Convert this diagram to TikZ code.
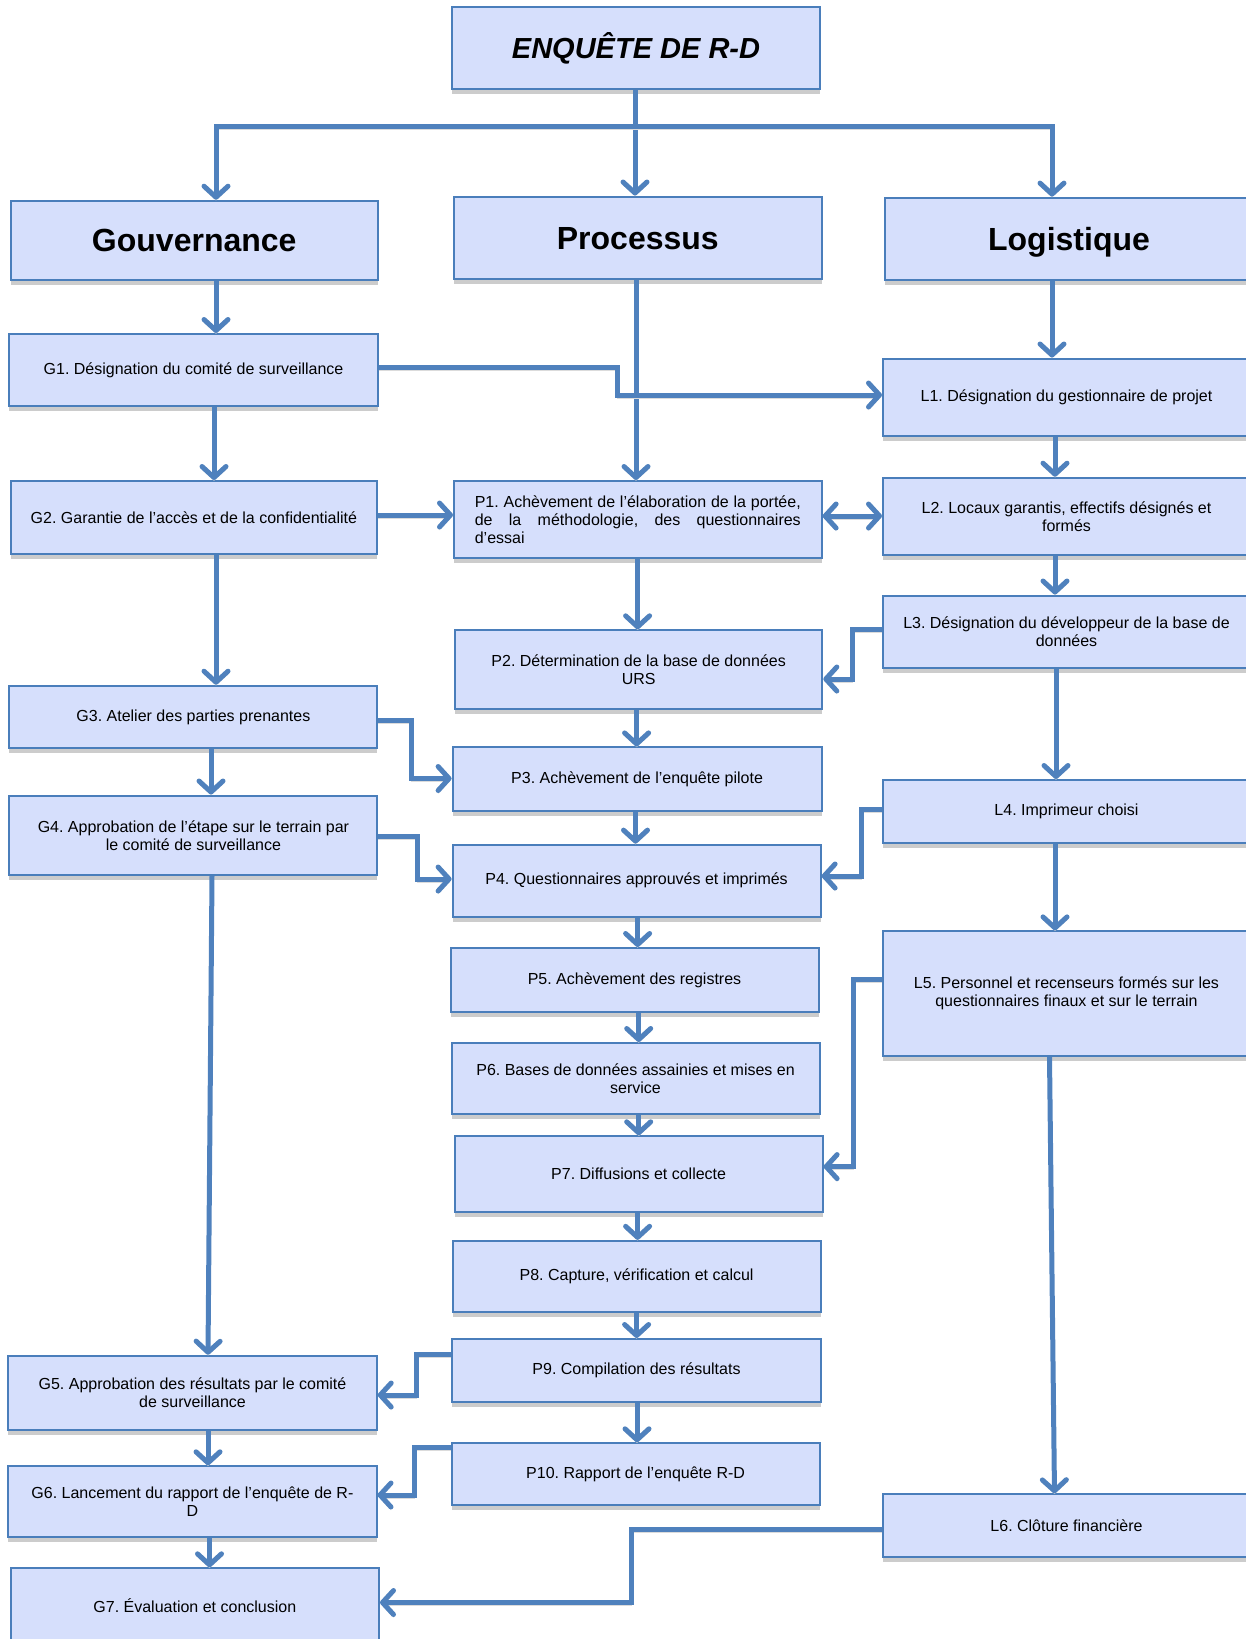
\documentclass[tikz,border=0pt]{standalone}
\usepackage{fontspec}
\setmainfont{Liberation Sans}
\usetikzlibrary{arrows.meta,shadows}
\definecolor{boxfill}{RGB}{214,223,252}
\definecolor{boxline}{RGB}{74,126,187}
\definecolor{conn}{RGB}{79,129,189}
\tikzset{
 box/.style={draw=boxline, line width=2pt, fill=boxfill, inner sep=0pt, align=center,
   font=\fontsize{16}{18}\selectfont\frenchspacing,
   drop shadow={shadow xshift=0pt,shadow yshift=-5pt,fill=black!20,opacity=1}},
 headbox/.style={box, font=\fontsize{32}{34}\selectfont\bfseries, text height=23pt, text depth=0pt},
 titlebox/.style={box, font=\fontsize{29}{30}\selectfont\bfseries\itshape, text height=21pt, text depth=0pt},
 tipA/.tip={Straight Barb[length=11pt,width=24pt,round]},
 arr/.style={draw=conn, line width=5pt, -tipA,
   preaction={draw=black!14, transform canvas={yshift=-3pt}}},
 dblarr/.style={arr, tipA-tipA},
}
\newcommand\bx[7][box]{\node[#1, minimum width={#5-#3}, minimum height={#6-#4}] (#2) at ({(#3+#5)/2},{(#4+#6)/2}) {#7};}
\begin{document}
\begin{tikzpicture}[x=1pt,y=-1pt]
\useasboundingbox (0,0) rectangle (1246,1639);
% boxes
\bx[titlebox]{ENQ}{452}{7}{820}{89}{ENQUÊTE DE R-D}
\bx[headbox]{Gov}{10.5}{200.7}{378}{280}{Gouvernance}
\bx[headbox]{Proc}{454}{196.5}{821.6}{279}{Processus}
\bx[headbox]{Log}{885}{197.6}{1253}{280}{Logistique}
\bx{G1}{9.4}{334}{377.7}{406.4}{G1. Désignation du comité de surveillance}
\bx{L1}{883}{358.5}{1250}{436}{L1. Désignation du gestionnaire de projet}
\bx{G2}{10.5}{481}{377.4}{554}{G2. Garantie de l’accès et de la confidentialité}
\bx{P1}{454}{481}{821.6}{557.5}{\makebox[326pt][s]{P1. Achèvement de l’élaboration de la portée,}\\\makebox[326pt][s]{de la méthodologie, des questionnaires}\\\makebox[326pt][l]{d’essai}}
\bx{L2}{883}{477.7}{1250}{555}{L2. Locaux garantis, effectifs désignés et\\formés}
\bx{L3}{883}{595.5}{1250}{667.5}{L3. Désignation du développeur de la base de\\données}
\bx{P2}{455}{630.3}{822.3}{709}{P2. Détermination de la base de données\\URS}
\bx{G3}{9.4}{685.7}{377.4}{748.4}{G3. Atelier des parties prenantes}
\bx{P3}{452.6}{747.4}{821.6}{811}{P3. Achèvement de l’enquête pilote}
\bx{L4}{883}{780}{1250}{843}{L4. Imprimeur choisi}
\bx{G4}{9.4}{795.5}{377.4}{875}{G4. Approbation de l’étape sur le terrain par\\le comité de surveillance}
\bx{P4}{452.6}{844.6}{820.6}{916.7}{P4. Questionnaires approuvés et imprimés}
\bx{L5}{883}{931.4}{1250}{1055.8}{L5. Personnel et recenseurs formés sur les\\questionnaires finaux et sur le terrain}
\bx{P5}{450.5}{948}{818.5}{1012}{P5. Achèvement des registres}
\bx{P6}{451.6}{1043}{819.5}{1114.3}{P6. Bases de données assainies et mises en\\service}
\bx{P7}{454.7}{1136.3}{822.6}{1211.5}{P7. Diffusions et collecte}
\bx{P8}{452.6}{1240.8}{820.6}{1312}{P8. Capture, vérification et calcul}
\bx{P9}{452.3}{1339}{820.7}{1401.7}{P9. Compilation des résultats}
\bx{G5}{8.3}{1355.7}{376.7}{1430}{G5. Approbation des résultats par le comité\\de surveillance}
\bx{P10}{451.7}{1443.3}{819.5}{1505}{P10. Rapport de l’enquête R-D}
\bx{G6}{8.4}{1466.3}{376.5}{1537.3}{G6. Lancement du rapport de l’enquête de R-\\D}
\bx{L6}{883}{1494.3}{1250}{1557.3}{L6. Clôture financière}
\bx{G7}{10.7}{1568.3}{379}{1642}{G7. Évaluation et conclusion}
% top tree
\coordinate (hub) at (635,126.5);
\draw[arr] (ENQ.south -| 635,0) -- (635,0 |- Proc.north);
\draw[arr] (hub) -| (216,0 |- Gov.north);
\draw[arr] (hub) -| (1052,0 |- Log.north);
% verticals
\draw[arr] (216,0 |- Gov.south) -- (216,0 |- G1.north);
\draw[arr] (1052,0 |- Log.south) -- (1052,0 |- L1.north);
\draw[arr] (636,0 |- Proc.south) -- (636,0 |- P1.north);
\draw[arr] (214,0 |- G1.south) -- (214,0 |- G2.north);
\draw[arr] (1055,0 |- L1.south) -- (1055,0 |- L2.north);
\draw[arr] (1055,0 |- L2.south) -- (1055,0 |- L3.north);
\draw[arr] (637.6,0 |- P1.south) -- (637.6,0 |- P2.north);
\draw[arr] (216,0 |- G2.south) -- (216,0 |- G3.north);
\draw[arr] (636.6,0 |- P2.south) -- (636.6,0 |- P3.north);
\draw[arr] (1056,0 |- L3.south) -- (1056,0 |- L4.north);
\draw[arr] (211,0 |- G3.south) -- (211,0 |- G4.north);
\draw[arr] (635.5,0 |- P3.south) -- (635.5,0 |- P4.north);
\draw[arr] (1055,0 |- L4.south) -- (1055,0 |- L5.north);
\draw[arr] (637.6,0 |- P4.south) -- (637.6,0 |- P5.north);
\draw[arr] (638.7,0 |- P5.south) -- (638.7,0 |- P6.north);
\draw[arr] (638.7,0 |- P6.south) -- (638.7,0 |- P7.north);
\draw[arr] (637.6,0 |- P7.south) -- (637.6,0 |- P8.north);
\draw[arr] (636.6,0 |- P8.south) -- (636.6,0 |- P9.north);
\draw[arr] (637,0 |- P9.south) -- (637,0 |- P10.north);
\draw[arr] (212,0 |- G4.south) -- (208,0 |- G5.north);
\draw[arr] (208,0 |- G5.south) -- (208,0 |- G6.north);
\draw[arr] (209.5,0 |- G6.south) -- (209.5,0 |- G7.north);
\draw[arr] (1049.5,0 |- L5.south) -- (1054.5,0 |- L6.north);
% bent connectors
\draw[arr] (G1.east |- 0,367) -- (617,367) -- (617,395) -- (L1.west |- 0,395);
\draw[arr] (G2.east |- 0,515) -- (P1.west |- 0,515);
\draw[dblarr] (P1.east |- 0,516) -- (L2.west |- 0,516);
\draw[arr] (L3.west |- 0,629) -- (852.5,629) -- (852.5,679) -- (P2.east |- 0,679);
\draw[arr] (G3.east |- 0,720) -- (411,720) -- (411,778.5) -- (P3.west |- 0,778.5);
\draw[arr] (L4.west |- 0,809) -- (861,809) -- (861,876) -- (P4.east |- 0,876);
\draw[arr] (G4.east |- 0,836) -- (417,836) -- (417,879) -- (P4.west |- 0,879);
\draw[arr] (L5.west |- 0,979.5) -- (853,979.5) -- (853,1166.6) -- (P7.east |- 0,1166.6);
\draw[arr] (P9.west |- 0,1354.5) -- (416,1354.5) -- (416,1395) -- (G5.east |- 0,1395);
\draw[arr] (P10.west |- 0,1447) -- (414.5,1447) -- (414.5,1495) -- (G6.east |- 0,1495);
\draw[arr] (L6.west |- 0,1529) -- (631.5,1529) -- (631.5,1602.5) -- (G7.east |- 0,1602.5);
\end{tikzpicture}
\end{document}
